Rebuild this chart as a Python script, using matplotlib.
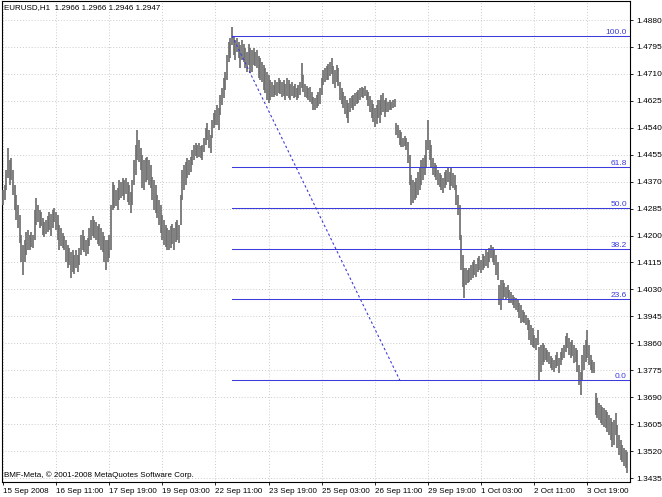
import matplotlib.pyplot as plt
import numpy as np
from matplotlib.ticker import FixedLocator, FuncFormatter

plt.rcParams["font.family"] = ["Liberation Sans", "DejaVu Sans"]

SYMBOL = "EURUSD,H1"
LAST_QUOTE = [1.2966, 1.2966, 1.2946, 1.2947]
COPYRIGHT = "BMF-Meta, \u00a9 2001-2008 MetaQuotes Software Corp."

# hourly highs / lows in 1e-4 units (price = pips / 10000), one entry per bar
HIGH_PIPS = [
    14344, 14359, 14407, 14476, 14438, 14445, 14407, 14359, 14328, 14296,
    14265, 14202, 14170, 14186, 14211, 14217, 14202, 14211, 14202, 14281,
    14318, 14296, 14281, 14274, 14255, 14243, 14249, 14262, 14274, 14268,
    14281, 14287, 14274, 14265, 14233, 14224, 14208, 14199, 14186, 14170,
    14161, 14148, 14154, 14139, 14154, 14139, 14161, 14202, 14217, 14199,
    14186, 14192, 14224, 14249, 14262, 14249, 14243, 14230, 14236, 14224,
    14211, 14199, 14186, 14186, 14202, 14296, 14369, 14359, 14344, 14350,
    14375, 14369, 14381, 14375, 14381, 14369, 14359, 14337, 14375, 14438,
    14486, 14533, 14501, 14476, 14454, 14438, 14445, 14448, 14438, 14422,
    14385, 14375, 14359, 14328, 14312, 14296, 14265, 14249, 14233, 14224,
    14217, 14230, 14236, 14224, 14243, 14249, 14233, 14328, 14407, 14422,
    14432, 14445, 14438, 14448, 14470, 14486, 14492, 14486, 14492, 14482,
    14486, 14508, 14539, 14555, 14533, 14517, 14564, 14587, 14596, 14612,
    14602, 14643, 14665, 14697, 14716, 14770, 14811, 14823, 14858, 14830,
    14817, 14823, 14811, 14801, 14817, 14804, 14792, 14779, 14804, 14792,
    14785, 14792, 14779, 14785, 14766, 14760, 14747, 14738, 14729, 14716,
    14706, 14691, 14684, 14675, 14691, 14684, 14697, 14691, 14684, 14691,
    14678, 14697, 14691, 14678, 14684, 14672, 14678, 14665, 14675, 14684,
    14744, 14706, 14678, 14672, 14665, 14669, 14653, 14637, 14634, 14643,
    14653, 14665, 14697, 14722, 14729, 14735, 14741, 14747, 14760, 14735,
    14722, 14738, 14729, 14684, 14665, 14653, 14640, 14628, 14618, 14634,
    14640, 14643, 14650, 14653, 14659, 14665, 14669, 14665, 14672, 14659,
    14653, 14640, 14628, 14615, 14602, 14612, 14628, 14628, 14643, 14650,
    14628, 14634, 14621, 14628, 14621, 14628, 14631,
    # new week
    14555, 14549, 14533, 14527, 14508, 14514, 14508, 14495, 14454, 14391,
    14375, 14369, 14381, 14400, 14413, 14438, 14445, 14454, 14501, 14564,
    14501, 14486, 14445, 14429, 14422, 14407, 14397, 14391, 14381, 14400,
    14407, 14413, 14400, 14416, 14397, 14391, 14359, 14328, 14296, 14202,
    14139, 14098, 14098, 14091, 14098, 14107, 14117, 14123, 14110, 14129,
    14135, 14123, 14142, 14135, 14154, 14148, 14161, 14170, 14164, 14154,
    14139, 14117, 14044, 14060, 14060, 14050, 14038, 14044, 14028, 14022,
    14012, 14006, 14003, 13997, 13987, 13981, 13965, 13959, 13949, 13940,
    13934, 13918, 13908, 13886, 13877, 13902, 13848, 13855, 13861, 13855,
    13845, 13839, 13833, 13820, 13814, 13807, 13823, 13833, 13814, 13833,
    13845, 13855, 13883, 13893, 13877, 13864, 13870, 13855, 13845, 13839,
    13792, 13769, 13823, 13855, 13870, 13902, 13855, 13823, 13807, 13801,
    # new week
    13703, 13687, 13672, 13665, 13659, 13656, 13650, 13643, 13634, 13624,
    13612, 13618, 13640, 13602, 13571, 13555, 13539, 13530, 13523, 13517,
]

LOW_PIPS = [
    14296, 14312, 14344, 14381, 14359, 14375, 14328, 14281, 14249, 14224,
    14176, 14117, 14076, 14117, 14139, 14154, 14154, 14164, 14161, 14186,
    14233, 14243, 14224, 14230, 14202, 14195, 14205, 14211, 14217, 14199,
    14224, 14243, 14217, 14186, 14154, 14167, 14161, 14154, 14117, 14098,
    14107, 14066, 14085, 14079, 14098, 14085, 14107, 14139, 14154, 14148,
    14135, 14142, 14167, 14186, 14199, 14192, 14186, 14173, 14167, 14154,
    14148, 14117, 14091, 14117, 14129, 14154, 14281, 14287, 14293, 14281,
    14312, 14318, 14325, 14312, 14331, 14306, 14296, 14271, 14296, 14359,
    14391, 14438, 14432, 14407, 14350, 14344, 14369, 14375, 14359, 14350,
    14312, 14281, 14271, 14255, 14233, 14208, 14186, 14170, 14164, 14154,
    14154, 14161, 14173, 14154, 14180, 14186, 14176, 14233, 14312, 14344,
    14359, 14381, 14391, 14400, 14422, 14438, 14451, 14445, 14448, 14445,
    14438, 14463, 14486, 14501, 14476, 14460, 14508, 14539, 14549, 14549,
    14533, 14580, 14612, 14634, 14659, 14691, 14747, 14760, 14801, 14770,
    14754, 14779, 14760, 14729, 14754, 14747, 14729, 14716, 14738, 14713,
    14716, 14738, 14735, 14729, 14697, 14691, 14684, 14659, 14650, 14628,
    14618, 14628, 14637, 14637, 14643, 14640, 14650, 14646, 14637, 14640,
    14628, 14640, 14634, 14628, 14640, 14634, 14637, 14628, 14634, 14643,
    14665, 14653, 14637, 14634, 14628, 14621, 14615, 14596, 14596, 14602,
    14609, 14615, 14643, 14675, 14684, 14691, 14691, 14703, 14710, 14678,
    14665, 14684, 14672, 14628, 14615, 14602, 14583, 14571, 14555, 14590,
    14602, 14596, 14609, 14615, 14618, 14628, 14637, 14634, 14640, 14628,
    14609, 14590, 14571, 14558, 14542, 14552, 14571, 14555, 14580, 14590,
    14574, 14590, 14590, 14596, 14596, 14602, 14605,
    # new week
    14517, 14508, 14486, 14479, 14479, 14482, 14470, 14429, 14359, 14296,
    14303, 14312, 14318, 14328, 14344, 14359, 14375, 14391, 14416, 14470,
    14438, 14416, 14391, 14385, 14375, 14359, 14353, 14344, 14334, 14350,
    14359, 14369, 14344, 14356, 14350, 14344, 14296, 14265, 14186, 14091,
    14038, 14003, 14044, 14050, 14053, 14060, 14066, 14076, 14069, 14085,
    14091, 14082, 14091, 14098, 14104, 14098, 14117, 14129, 14117, 14107,
    14076, 14060, 13981, 13965, 13997, 14006, 13997, 14003, 13987, 13987,
    13981, 13971, 13965, 13959, 13940, 13924, 13927, 13924, 13918, 13902,
    13870, 13855, 13848, 13845, 13839, 13855, 13744, 13769, 13792, 13801,
    13807, 13801, 13795, 13782, 13776, 13769, 13782, 13788, 13766, 13792,
    13807, 13814, 13833, 13845, 13823, 13814, 13820, 13798, 13801, 13769,
    13728, 13697, 13744, 13776, 13801, 13814, 13792, 13776, 13766, 13766,
    # new week
    13634, 13624, 13618, 13609, 13602, 13596, 13593, 13580, 13571, 13555,
    13533, 13539, 13571, 13530, 13508, 13492, 13486, 13473, 13467, 13451,
]

TIME_LABELS = [
    "15 Sep 2008", "16 Sep 11:00", "17 Sep 19:00", "19 Sep 03:00",
    "22 Sep 11:00", "23 Sep 19:00", "25 Sep 03:00", "26 Sep 11:00",
    "29 Sep 19:00", "1 Oct 03:00", "2 Oct 11:00", "3 Oct 19:00",
]
TIME_LABEL_BARS = [0, 32, 64, 96, 128, 160, 192, 224, 256, 288, 320, 352]

PRICE_TICKS = [
    1.4880, 1.4795, 1.4710, 1.4625, 1.4540, 1.4455, 1.4370, 1.4285, 1.4200,
    1.4115, 1.4030, 1.3945, 1.3860, 1.3775, 1.3690, 1.3605, 1.3520, 1.3435,
]

FIB_LEVELS = [0.0, 23.6, 38.2, 50.0, 61.8, 100.0]
FIB_HIGH = 1.4830
FIB_LOW = 1.3744
FIB_HIGH_BAR = 138
FIB_LOW_BAR = 239

BAR_COLOR = "#707070"
FIB_COLOR = "#3c3cdc"
GRID_COLOR = "#cccccc"

high = np.array(HIGH_PIPS) / 10000.0
low = np.array(LOW_PIPS) / 10000.0
bars = np.arange(len(high))

W, H = 662, 497
fig = plt.figure(figsize=(W / 100, H / 100), dpi=100)
fig.patch.set_facecolor("white")
ax = fig.add_axes([2 / W, 15 / H, 628 / W, 481 / H])

ax.set_xlim(-0.6, 377.7)
ax.set_ylim(1.34224, 1.49400)

ax.grid(True, color=GRID_COLOR, linestyle=(0, (1, 2)), linewidth=0.7)
ax.set_axisbelow(True)

ax.vlines(bars, low, high, color=BAR_COLOR, linewidth=1.25, zorder=3)

# fibonacci retracement
for level in FIB_LEVELS:
    price = FIB_LOW + (FIB_HIGH - FIB_LOW) * level / 100.0
    ax.plot([FIB_HIGH_BAR, ax.get_xlim()[1]], [price, price],
            color=FIB_COLOR, linewidth=0.75, zorder=4)
    ax.text(0.995, price, f"{level:.1f}", color=FIB_COLOR, fontsize=6,
            ha="right", va="bottom", transform=ax.get_yaxis_transform(), zorder=5)
ax.plot([FIB_HIGH_BAR, FIB_LOW_BAR], [FIB_HIGH, FIB_LOW],
        color=FIB_COLOR, linewidth=0.8, linestyle=(0, (2.2, 2.2)), zorder=4)

ax.yaxis.tick_right()
ax.yaxis.set_major_locator(FixedLocator(PRICE_TICKS))
ax.yaxis.set_major_formatter(FuncFormatter(lambda v, _: f"{v:.4f}"))
ax.tick_params(axis="y", direction="out", length=2.5, width=0.6, pad=2,
               labelsize=6.0, colors="black")

ax.set_xticks(TIME_LABEL_BARS)
ax.set_xticklabels(TIME_LABELS)
ax.tick_params(axis="x", direction="out", length=2.5, width=0.6, pad=1.5,
               labelsize=5.8, colors="black")
for lab in ax.get_xticklabels():
    lab.set_horizontalalignment("left")

for spine in ax.spines.values():
    spine.set_color("black")
    spine.set_linewidth(0.8)

quote = " ".join(f"{q:.4f}" for q in LAST_QUOTE)
fig.text(4 / W, 1 - 8 / H, f"{SYMBOL}  {quote}", fontsize=5.8, va="center", ha="left")
fig.text(4 / W, 1 - 475 / H, COPYRIGHT, fontsize=5.8, va="center", ha="left")

fig.savefig("out.png", dpi=100)
